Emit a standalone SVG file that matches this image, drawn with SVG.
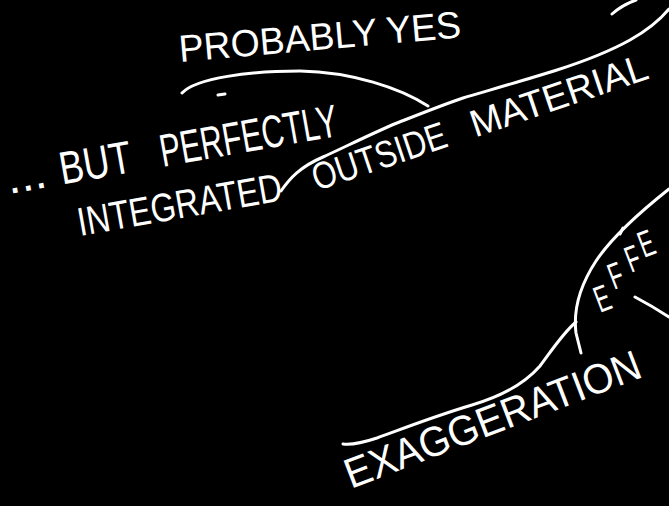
<svg xmlns="http://www.w3.org/2000/svg" width="669" height="506" viewBox="0 0 669 506">
  <style>
    .ln { fill: none; stroke: #ffffff; stroke-width: 3; stroke-linecap: round; stroke-linejoin: round; }
    .tx { fill: #ffffff; font-family: "Liberation Sans", Arial, sans-serif; }
  </style>
  <rect x="0" y="0" width="669" height="506" fill="#000000"/>

  <g id="lines">
    <path class="ln" d="M281,191 C290,178 300,167 323,157 C345,147 375,132 397,123 C420,114 445,104 463,98 C490,90 525,80 557,70 C585,61 612,50 630,40 C648,30 660,20 669,9"/>
    <path class="ln" d="M612,14 Q622,5 636,0"/>
    <path class="ln" d="M182,93 C196,78 250,71 300,71 C352,72 400,88 428,106"/>
    <path class="ln" d="M218,95 L225,94"/>
    <path class="ln" d="M669,189 C640,212 612,237 596,261 C581,284 573,309 576,333 L581,353"/>
    <path class="ln" d="M620,234 L623,228"/>
    <path class="ln" d="M576,322 C563,333 552,350 540,366 C526,382 506,395 472,405 C432,417 402,429 377,438 C362,443 352,445 343,444"/>
    <path class="ln" d="M635,297 Q652,306 669,317"/>
  </g>

  <g id="probably-yes">
    <text class="tx" font-size="38" transform="translate(180,62) rotate(-5)" textLength="283" lengthAdjust="spacingAndGlyphs">PROBABLY YES</text>
  </g>

  <g id="but-perfectly">
    <text class="tx" font-size="46" transform="translate(9,194) rotate(-10)">
      <tspan x="0" y="0" textLength="40" lengthAdjust="spacingAndGlyphs">...</tspan>
      <tspan x="54" y="0" textLength="72" lengthAdjust="spacingAndGlyphs">BUT</tspan>
      <tspan x="156" y="0" textLength="180" lengthAdjust="spacingAndGlyphs">PERFECTLY</tspan>
    </text>
  </g>

  <g id="integrated">
    <text class="tx" font-size="40" transform="translate(80,236) rotate(-10)" textLength="207" lengthAdjust="spacingAndGlyphs">INTEGRATED</text>
  </g>

  <g id="outside-material">
    <text class="tx" font-size="38" transform="translate(317,191) rotate(-18.7)">
      <tspan x="0" y="0" textLength="140" lengthAdjust="spacingAndGlyphs">OUTSIDE</tspan>
      <tspan x="167" y="0" textLength="185" lengthAdjust="spacingAndGlyphs">MATERIAL</tspan>
    </text>
  </g>

  <g id="exaggeration">
    <text class="tx" font-size="42" transform="translate(351,489) rotate(-21)" textLength="314" lengthAdjust="spacingAndGlyphs">EXAGGERATION</text>
  </g>

  <g id="effe">
    <text class="tx" font-size="37" transform="translate(600,313) rotate(-21) scale(0.6,1)">E</text>
    <text class="tx" font-size="37" transform="translate(614,290) rotate(-21) scale(0.6,1)">F</text>
    <text class="tx" font-size="37" transform="translate(631,273) rotate(-21) scale(0.6,1)">F</text>
    <text class="tx" font-size="37" transform="translate(644,258) rotate(-21) scale(0.6,1)">E</text>
  </g>
</svg>
